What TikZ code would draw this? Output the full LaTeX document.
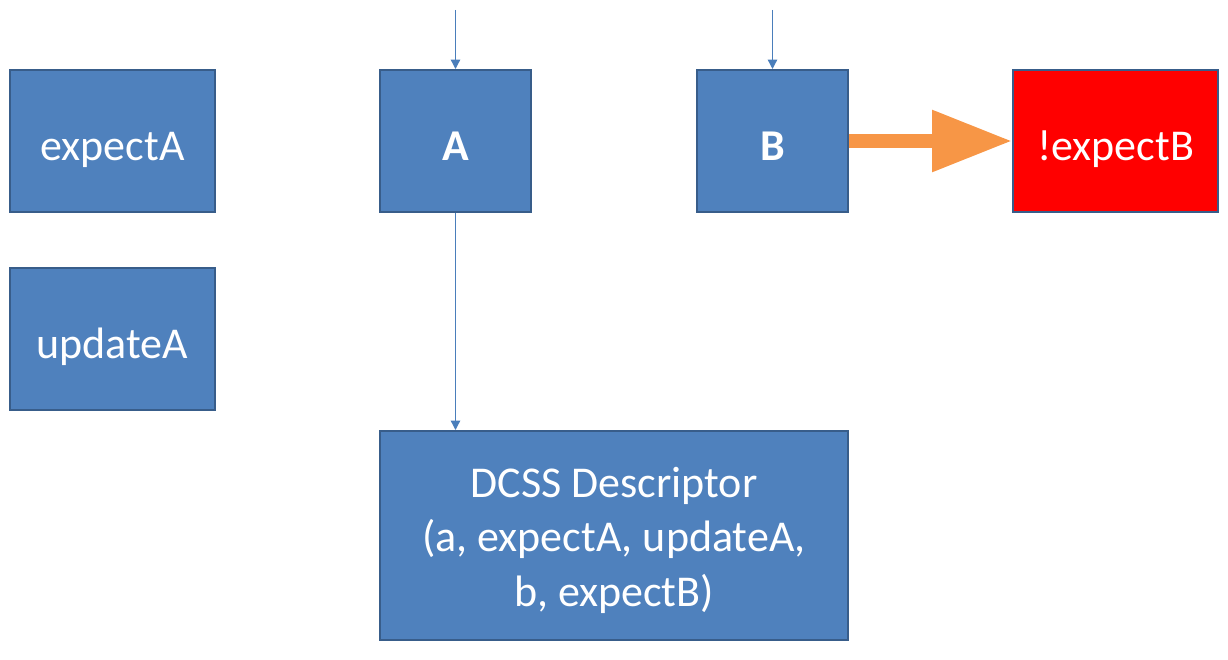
\documentclass[tikz,border=0pt]{standalone}
\usepackage{fontspec}
\setmainfont{Carlito}
\usetikzlibrary{arrows.meta}
\definecolor{boxfill}{RGB}{79,129,189}
\definecolor{boxline}{RGB}{56,93,138}
\definecolor{linkblue}{RGB}{74,126,187}
\definecolor{fatorange}{RGB}{247,150,70}
\begin{document}
\begin{tikzpicture}[x=0.75pt,y=-0.75pt,
    cell/.style={draw=boxline,line width=1.5pt,fill=boxfill,text=white,
        inner sep=0pt,font=\fontsize{33}{41}\selectfont,align=center},
    wide/.style={cell,text height=28.5pt,text depth=0pt,minimum width=153.75pt,minimum height=106.5pt},
    narrow/.style={cell,text height=28.5pt,text depth=0pt,minimum width=113.25pt,minimum height=106.5pt},
    link/.style={draw=linkblue,line width=1pt,-{Triangle[width=7pt,length=7pt]}}]
        \useasboundingbox (0,0) rectangle (1228,660);
        \node[wide] (expA) at (112.5,141) {expectA};
        \node[wide] (updA) at (112.5,339) {updateA};
        \node[narrow] (A) at (455.5,141) {\textbf{A}};
        \node[narrow] (B) at (772.5,141) {\textbf{B}};
        \node[wide,fill=red] (notB) at (1115.5,141) {!expectB};
        \node[cell,minimum width=351pt,minimum height=156.75pt] (desc) at (614,535.5)
            {\rule{0pt}{30pt}DCSS Descriptor\\(a, expectA, updateA,\\b, expectB)};
        \coordinate (topA) at (455.5,10);
        \coordinate (topB) at (772.5,10);
        \draw[link] (topA) -- (A.north);
        \draw[link] (topB) -- (B.north);
        \draw[link] (A.south) -- (desc.north -| A.south);
        \draw[fatorange,line width=10pt,-{Triangle[width=44pt,length=60pt]}] (B.east) -- (notB.west); % fat arrow
    \end{tikzpicture}
\end{document}
